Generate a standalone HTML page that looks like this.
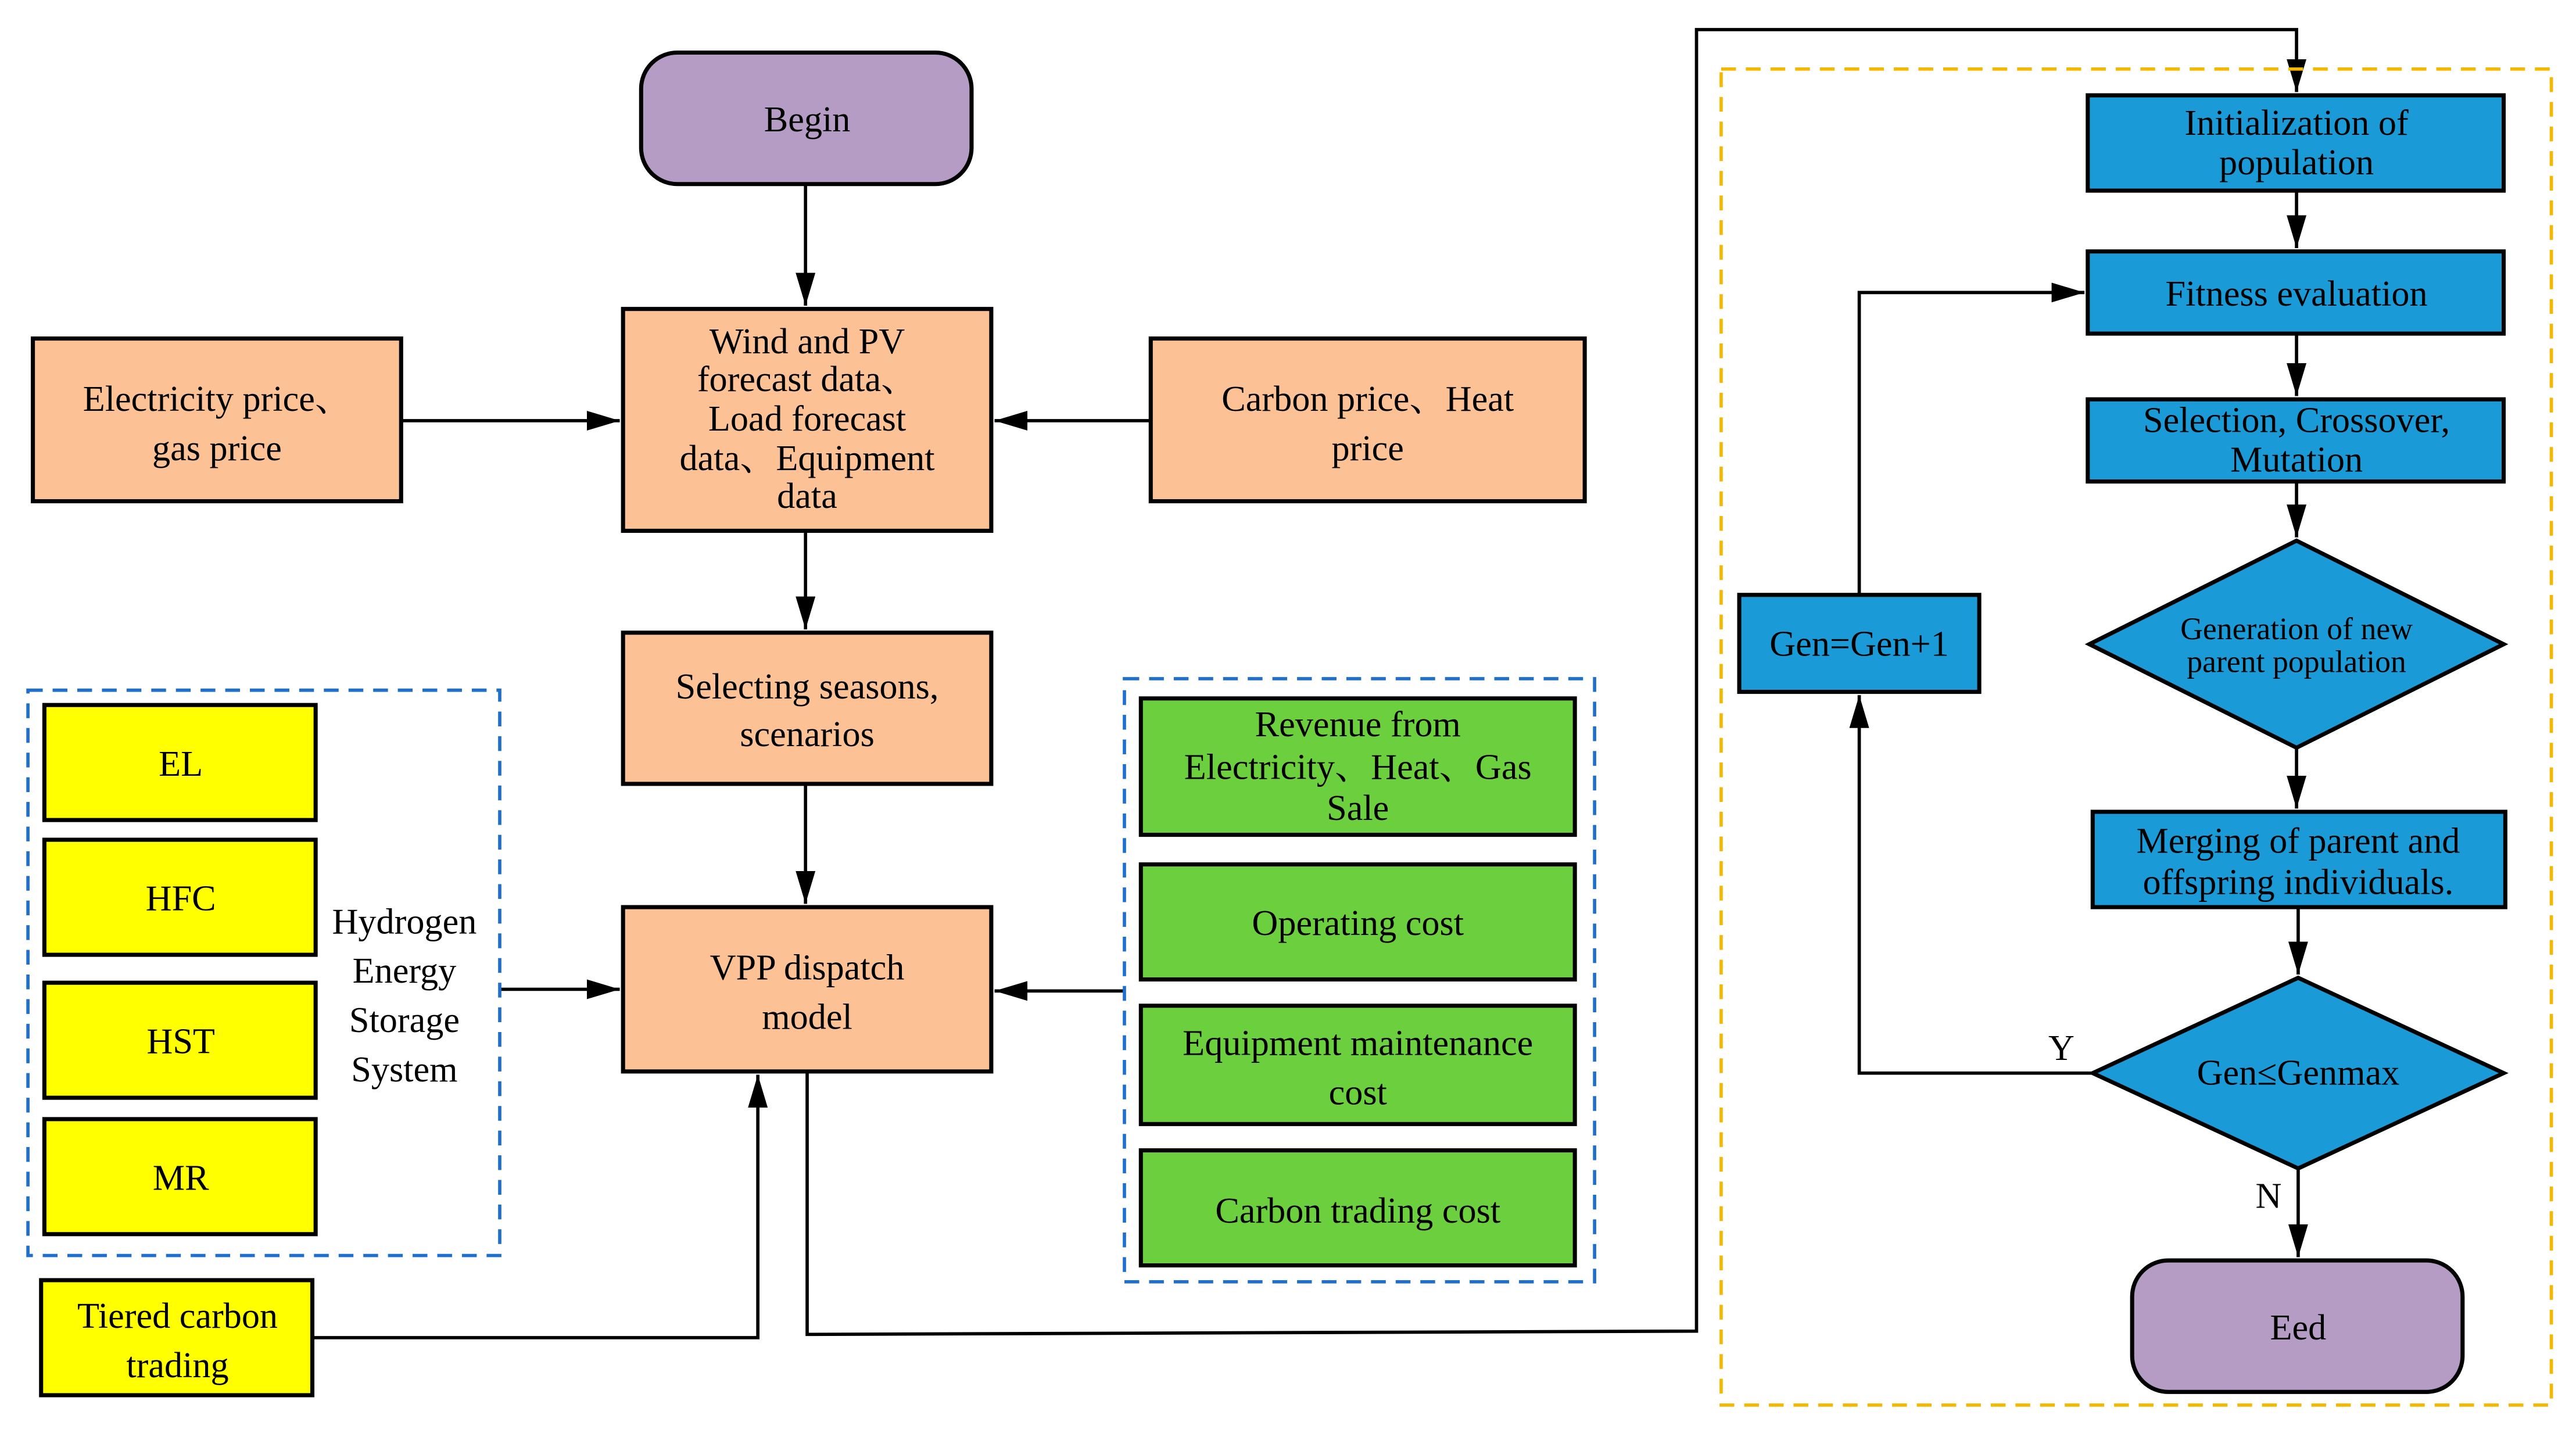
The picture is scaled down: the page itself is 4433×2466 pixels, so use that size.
<!DOCTYPE html>
<html><head><meta charset="utf-8"><style>html,body{margin:0;padding:0;background:#fff}svg{display:block}text{font-family:"Liberation Serif","Noto Serif CJK SC",serif;font-size:22px;fill:#000;text-anchor:middle}</style></head>
<body>
<svg width="4433" height="2466" viewBox="0 0 1567 872" preserveAspectRatio="none" xmlns="http://www.w3.org/2000/svg">
<defs>
<marker id="b" markerWidth="20" markerHeight="12" refX="20" refY="6" orient="auto" markerUnits="userSpaceOnUse" viewBox="0 0 20 12"><path d="M0,0 L20,6 L0,12 Z" fill="#000"/></marker></defs>
<rect width="1567" height="872" fill="#fff"/>
<g stroke="#000" stroke-width="2" fill="none">
<path d="M490,112 V186" marker-end="url(#b)"/>
<path d="M244,256 H377" marker-end="url(#b)"/>
<path d="M700,256 H605" marker-end="url(#b)"/>
<path d="M490,323 V383" marker-end="url(#b)"/>
<path d="M490,477 V550" marker-end="url(#b)"/>
<path d="M304,602 H377" marker-end="url(#b)"/>
<path d="M684,603 H605" marker-end="url(#b)"/>
<path d="M190,814 H461 V654" marker-end="url(#b)"/>
<path d="M491,652 V812 L1032,810 V18 H1397 V56" marker-end="url(#b)"/>
<path d="M1397,116 V151" marker-end="url(#b)"/>
<path d="M1397,203 V241" marker-end="url(#b)"/>
<path d="M1397,293 V327" marker-end="url(#b)"/>
<path d="M1397,455 V492" marker-end="url(#b)"/>
<path d="M1398,552 V593" marker-end="url(#b)"/>
<path d="M1273,653 H1131 V423" marker-end="url(#b)"/>
<path d="M1131,362 V178 H1268" marker-end="url(#b)"/>
<path d="M1398,711 V765" marker-end="url(#b)"/>
</g>
<g stroke-width="2" fill="none" stroke-dasharray="9,6">
<rect x="17" y="420" width="287" height="344" stroke="#1f6fd0"/>
<rect x="684" y="413" width="286" height="367" stroke="#1f6fd0"/>
<rect x="1047" y="42" width="505" height="813" stroke="#f5b800"/>
</g>
<g stroke="#000" stroke-width="2.5">
<rect x="390" y="32" width="201" height="80" rx="22" fill="#b49cc4"/>
<rect x="1297" y="767" width="201" height="80" rx="22" fill="#b49cc4"/>
<g fill="#fcc296">
<rect x="379" y="188" width="224" height="135"/>
<rect x="20" y="206" width="224" height="99"/>
<rect x="700" y="206" width="264" height="99"/>
<rect x="379" y="385" width="224" height="92"/>
<rect x="379" y="552" width="224" height="100"/>
</g>
<g fill="#ffff00">
<rect x="27" y="429" width="165" height="70"/>
<rect x="27" y="511" width="165" height="70"/>
<rect x="27" y="598" width="165" height="70"/>
<rect x="27" y="681" width="165" height="70"/>
<rect x="25" y="779" width="165" height="70"/>
</g>
<g fill="#6ccf3e">
<rect x="694" y="425" width="264" height="83"/>
<rect x="694" y="526" width="264" height="70"/>
<rect x="694" y="612" width="264" height="72"/>
<rect x="694" y="700" width="264" height="70"/>
</g>
<g fill="#1a9bd7">
<rect x="1270" y="58" width="253" height="58"/>
<rect x="1270" y="153" width="253" height="50"/>
<rect x="1270" y="243" width="253" height="50"/>
<rect x="1273" y="494" width="251" height="58"/>
<rect x="1058" y="362" width="146" height="59"/>
<path d="M1271,392 L1397,329 L1523,392 L1397,455 Z"/>
<path d="M1273,653 L1398,595 L1523,653 L1398,711 Z"/>
</g>
</g>
<text x="491" y="80">Begin</text>
<text x="1398" y="815">Eed</text>
<text x="491" y="215">Wind and PV</text>
<text x="491" y="238">forecast data、</text>
<text x="491" y="262">Load forecast</text>
<text x="491" y="286">data、Equipment</text>
<text x="491" y="309">data</text>
<text x="132" y="250">Electricity price、</text>
<text x="132" y="280">gas price</text>
<text x="832" y="250">Carbon price、Heat</text>
<text x="832" y="280">price</text>
<text x="491" y="425">Selecting seasons,</text>
<text x="491" y="454">scenarios</text>
<text x="491" y="596">VPP dispatch</text>
<text x="491" y="626">model</text>
<text x="110" y="472">EL</text>
<text x="110" y="554">HFC</text>
<text x="110" y="641">HST</text>
<text x="110" y="724">MR</text>
<text x="246" y="568">Hydrogen</text>
<text x="246" y="598">Energy</text>
<text x="246" y="628">Storage</text>
<text x="246" y="658">System</text>
<text x="108" y="808">Tiered carbon</text>
<text x="108" y="838">trading</text>
<text x="826" y="448">Revenue from</text>
<text x="826" y="474">Electricity、Heat、Gas</text>
<text x="826" y="499">Sale</text>
<text x="826" y="569">Operating cost</text>
<text x="826" y="642">Equipment maintenance</text>
<text x="826" y="672">cost</text>
<text x="826" y="744">Carbon trading cost</text>
<text x="1397" y="82">Initialization of</text>
<text x="1397" y="106">population</text>
<text x="1397" y="186">Fitness evaluation</text>
<text x="1397" y="263">Selection, Crossover,</text>
<text x="1397" y="287">Mutation</text>
<text x="1397" y="389" style="font-size:19px">Generation of new</text>
<text x="1397" y="409" style="font-size:19px">parent population</text>
<text x="1398" y="519">Merging of parent and</text>
<text x="1398" y="544">offspring individuals.</text>
<text x="1398" y="660">Gen≤Genmax</text>
<text x="1131" y="399">Gen=Gen+1</text>
<text x="1254" y="645">Y</text>
<text x="1380" y="735">N</text>
</svg>
</body></html>
